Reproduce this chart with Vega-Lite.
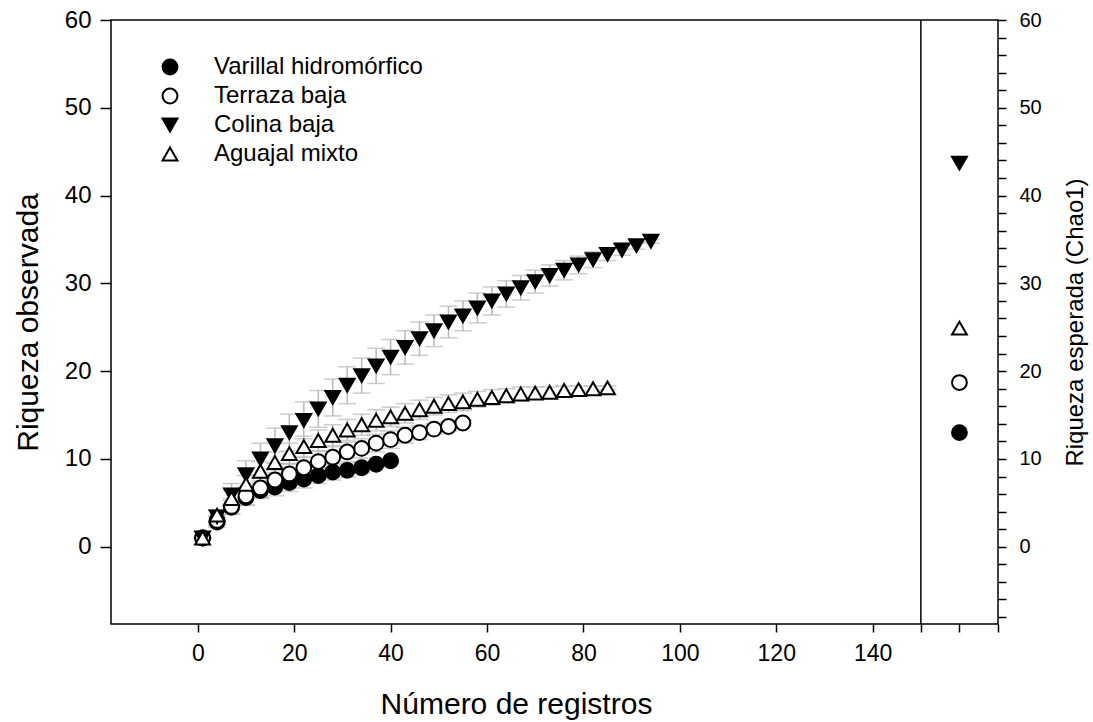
{
"$schema": "https://vega.github.io/schema/vega-lite/v6.json",
"width": 887, "height": 604,
"autosize": {"type": "none"},
"padding": {"left": 111, "top": 20, "right": 95, "bottom": 98},
"background": "white",
"config": {
  "font": "Liberation Sans",
  "view": {"stroke": "black", "strokeWidth": 1.5},
  "axis": {"domain": false, "grid": false, "tickColor": "black", "tickWidth": 1.5, "labelColor": "black", "titleColor": "black", "labelFont": "Liberation Sans", "titleFont": "Liberation Sans", "titleFontWeight": "normal", "labelOverlap": false, "labelFlush": false},
  "legend": {"title": null, "orient": "none", "legendX": 47, "legendY": 35, "padding": 0, "labelFontSize": 24, "labelFont": "Liberation Sans", "labelColor": "black", "labelLimit": 500, "labelOffset": 32, "rowPadding": 5, "symbolSize": 220, "symbolStrokeWidth": 2, "symbolStrokeColor": "black"}
},
"datasets": {
"curves": [
{"sitio":"Varillal hidromórfico","registros":1,"riqueza":1.0,"de":0},
{"sitio":"Varillal hidromórfico","registros":4,"riqueza":2.8,"de":0.6},
{"sitio":"Varillal hidromórfico","registros":7,"riqueza":4.5,"de":0.8},
{"sitio":"Varillal hidromórfico","registros":10,"riqueza":5.6,"de":0.9},
{"sitio":"Varillal hidromórfico","registros":13,"riqueza":6.4,"de":0.9},
{"sitio":"Varillal hidromórfico","registros":16,"riqueza":6.8,"de":1.0},
{"sitio":"Varillal hidromórfico","registros":19,"riqueza":7.3,"de":1.0},
{"sitio":"Varillal hidromórfico","registros":22,"riqueza":7.7,"de":1.0},
{"sitio":"Varillal hidromórfico","registros":25,"riqueza":8.1,"de":0.9},
{"sitio":"Varillal hidromórfico","registros":28,"riqueza":8.5,"de":0.9},
{"sitio":"Varillal hidromórfico","registros":31,"riqueza":8.7,"de":0.8},
{"sitio":"Varillal hidromórfico","registros":34,"riqueza":9.0,"de":0.6},
{"sitio":"Varillal hidromórfico","registros":37,"riqueza":9.4,"de":0.4},
{"sitio":"Varillal hidromórfico","registros":40,"riqueza":9.8,"de":0.2},
{"sitio":"Terraza baja","registros":1,"riqueza":1.0,"de":0},
{"sitio":"Terraza baja","registros":4,"riqueza":3.0,"de":0.6},
{"sitio":"Terraza baja","registros":7,"riqueza":4.6,"de":0.9},
{"sitio":"Terraza baja","registros":10,"riqueza":5.8,"de":1.0},
{"sitio":"Terraza baja","registros":13,"riqueza":6.7,"de":1.1},
{"sitio":"Terraza baja","registros":16,"riqueza":7.6,"de":1.1},
{"sitio":"Terraza baja","registros":19,"riqueza":8.3,"de":1.2},
{"sitio":"Terraza baja","registros":22,"riqueza":9.0,"de":1.2},
{"sitio":"Terraza baja","registros":25,"riqueza":9.7,"de":1.2},
{"sitio":"Terraza baja","registros":28,"riqueza":10.2,"de":1.2},
{"sitio":"Terraza baja","registros":31,"riqueza":10.8,"de":1.1},
{"sitio":"Terraza baja","registros":34,"riqueza":11.2,"de":1.1},
{"sitio":"Terraza baja","registros":37,"riqueza":11.8,"de":1.0},
{"sitio":"Terraza baja","registros":40,"riqueza":12.2,"de":1.0},
{"sitio":"Terraza baja","registros":43,"riqueza":12.7,"de":0.9},
{"sitio":"Terraza baja","registros":46,"riqueza":13.0,"de":0.8},
{"sitio":"Terraza baja","registros":49,"riqueza":13.4,"de":0.6},
{"sitio":"Terraza baja","registros":52,"riqueza":13.7,"de":0.5},
{"sitio":"Terraza baja","registros":55,"riqueza":14.1,"de":0.3},
{"sitio":"Colina baja","registros":1,"riqueza":1.0,"de":0},
{"sitio":"Colina baja","registros":4,"riqueza":3.4,"de":0.8},
{"sitio":"Colina baja","registros":7,"riqueza":5.9,"de":1.3},
{"sitio":"Colina baja","registros":10,"riqueza":8.2,"de":1.6},
{"sitio":"Colina baja","registros":13,"riqueza":10.0,"de":1.8},
{"sitio":"Colina baja","registros":16,"riqueza":11.5,"de":2.0},
{"sitio":"Colina baja","registros":19,"riqueza":13.0,"de":2.1},
{"sitio":"Colina baja","registros":22,"riqueza":14.4,"de":2.1},
{"sitio":"Colina baja","registros":25,"riqueza":15.7,"de":2.1},
{"sitio":"Colina baja","registros":28,"riqueza":17.0,"de":2.1},
{"sitio":"Colina baja","registros":31,"riqueza":18.4,"de":2.1},
{"sitio":"Colina baja","registros":34,"riqueza":19.5,"de":2.0},
{"sitio":"Colina baja","registros":37,"riqueza":20.6,"de":2.0},
{"sitio":"Colina baja","registros":40,"riqueza":21.6,"de":2.0},
{"sitio":"Colina baja","registros":43,"riqueza":22.7,"de":1.9},
{"sitio":"Colina baja","registros":46,"riqueza":23.7,"de":1.9},
{"sitio":"Colina baja","registros":49,"riqueza":24.6,"de":1.8},
{"sitio":"Colina baja","registros":52,"riqueza":25.6,"de":1.8},
{"sitio":"Colina baja","registros":55,"riqueza":26.3,"de":1.7},
{"sitio":"Colina baja","registros":58,"riqueza":27.2,"de":1.7},
{"sitio":"Colina baja","registros":61,"riqueza":28.0,"de":1.6},
{"sitio":"Colina baja","registros":64,"riqueza":28.8,"de":1.5},
{"sitio":"Colina baja","registros":67,"riqueza":29.5,"de":1.4},
{"sitio":"Colina baja","registros":70,"riqueza":30.2,"de":1.3},
{"sitio":"Colina baja","registros":73,"riqueza":30.9,"de":1.2},
{"sitio":"Colina baja","registros":76,"riqueza":31.5,"de":1.1},
{"sitio":"Colina baja","registros":79,"riqueza":32.1,"de":1.0},
{"sitio":"Colina baja","registros":82,"riqueza":32.7,"de":0.9},
{"sitio":"Colina baja","registros":85,"riqueza":33.3,"de":0.7},
{"sitio":"Colina baja","registros":88,"riqueza":33.8,"de":0.6},
{"sitio":"Colina baja","registros":91,"riqueza":34.3,"de":0.4},
{"sitio":"Colina baja","registros":94,"riqueza":34.8,"de":0.2},
{"sitio":"Aguajal mixto","registros":1,"riqueza":1.0,"de":0},
{"sitio":"Aguajal mixto","registros":4,"riqueza":3.6,"de":0.6},
{"sitio":"Aguajal mixto","registros":7,"riqueza":5.5,"de":0.9},
{"sitio":"Aguajal mixto","registros":10,"riqueza":7.1,"de":1.0},
{"sitio":"Aguajal mixto","registros":13,"riqueza":8.6,"de":1.1},
{"sitio":"Aguajal mixto","registros":16,"riqueza":9.6,"de":1.2},
{"sitio":"Aguajal mixto","registros":19,"riqueza":10.6,"de":1.2},
{"sitio":"Aguajal mixto","registros":22,"riqueza":11.4,"de":1.2},
{"sitio":"Aguajal mixto","registros":25,"riqueza":12.1,"de":1.2},
{"sitio":"Aguajal mixto","registros":28,"riqueza":12.7,"de":1.2},
{"sitio":"Aguajal mixto","registros":31,"riqueza":13.3,"de":1.2},
{"sitio":"Aguajal mixto","registros":34,"riqueza":13.9,"de":1.2},
{"sitio":"Aguajal mixto","registros":37,"riqueza":14.4,"de":1.2},
{"sitio":"Aguajal mixto","registros":40,"riqueza":14.8,"de":1.1},
{"sitio":"Aguajal mixto","registros":43,"riqueza":15.2,"de":1.1},
{"sitio":"Aguajal mixto","registros":46,"riqueza":15.6,"de":1.1},
{"sitio":"Aguajal mixto","registros":49,"riqueza":16.0,"de":1.0},
{"sitio":"Aguajal mixto","registros":52,"riqueza":16.3,"de":1.0},
{"sitio":"Aguajal mixto","registros":55,"riqueza":16.5,"de":1.0},
{"sitio":"Aguajal mixto","registros":58,"riqueza":16.8,"de":0.9},
{"sitio":"Aguajal mixto","registros":61,"riqueza":17.0,"de":0.9},
{"sitio":"Aguajal mixto","registros":64,"riqueza":17.2,"de":0.8},
{"sitio":"Aguajal mixto","registros":67,"riqueza":17.4,"de":0.8},
{"sitio":"Aguajal mixto","registros":70,"riqueza":17.5,"de":0.7},
{"sitio":"Aguajal mixto","registros":73,"riqueza":17.6,"de":0.6},
{"sitio":"Aguajal mixto","registros":76,"riqueza":17.8,"de":0.5},
{"sitio":"Aguajal mixto","registros":79,"riqueza":17.9,"de":0.4},
{"sitio":"Aguajal mixto","registros":82,"riqueza":18.0,"de":0.3},
{"sitio":"Aguajal mixto","registros":85,"riqueza":18.1,"de":0.2}
],
"chao": [
{"sitio":"Varillal hidromórfico","chao1":13.0},
{"sitio":"Terraza baja","chao1":18.7},
{"sitio":"Colina baja","chao1":43.7},
{"sitio":"Aguajal mixto","chao1":24.9}
]
},
"layer": [
{
  "data": {"name": "curves"},
  "mark": {"type": "errorbar", "ticks": {"size": 18, "color": "#b8b8b8", "strokeWidth": 1.5}, "color": "#b8b8b8", "thickness": 1.5},
  "encoding": {
    "x": {"field": "registros", "type": "quantitative", "scale": {"domain": [-18, 166], "nice": false, "zero": false},
      "axis": {"values": [0,20,40,60,80,100,120,140,150,158,166], "labelExpr": "datum.value <= 140 ? datum.label : ''", "tickSize": 8, "labelFontSize": 23, "labelPadding": 10, "title": "Número de registros", "titleFontSize": 30, "titleX": 405, "titleY": 89, "titleBaseline": "alphabetic", "titleAlign": "center"}},
    "y": {"field": "riqueza", "type": "quantitative", "scale": {"domain": [-8.8, 60], "nice": false, "zero": false},
      "axis": {"values": [0,10,20,30,40,50,60], "tickSize": 11, "labelFontSize": 24, "labelPadding": 9, "title": "Riqueza observada", "titleFontSize": 30, "titleX": -83, "titleY": 302, "titleAngle": -90, "titleAlign": "center", "titleBaseline": "middle"}},
    "yError": {"field": "de"}
  }
},
{
  "data": {"values": [{}]},
  "mark": {"type": "rule", "color": "black", "strokeWidth": 1.5},
  "encoding": {"x": {"datum": 150, "type": "quantitative"}}
},
{
  "data": {"name": "curves"},
  "mark": {"type": "point", "strokeWidth": 2, "size": 220, "opacity": 1, "fillOpacity": 1},
  "encoding": {
    "x": {"field": "registros", "type": "quantitative"},
    "y": {"field": "riqueza", "type": "quantitative", "axis": null},
    "fill": {"field": "sitio", "type": "nominal", "scale": {"domain": ["Varillal hidromórfico", "Terraza baja", "Colina baja", "Aguajal mixto"], "range": ["black", "white", "black", "white"]}},
    "stroke": {"field": "sitio", "type": "nominal", "scale": {"domain": ["Varillal hidromórfico", "Terraza baja", "Colina baja", "Aguajal mixto"], "range": ["black", "black", "black", "black"]}},
    "shape": {"field": "sitio", "type": "nominal", "scale": {"domain": ["Varillal hidromórfico", "Terraza baja", "Colina baja", "Aguajal mixto"], "range": ["circle", "circle", "triangle-down", "triangle-up"]}}
  }
},
{
  "data": {"name": "chao"},
  "mark": {"type": "point", "strokeWidth": 2, "size": 220, "opacity": 1, "fillOpacity": 1},
  "encoding": {
    "x": {"datum": 158, "type": "quantitative"},
    "y": {"field": "chao1", "type": "quantitative", "scale": {"domain": [-8.8, 60], "nice": false, "zero": false},
      "axis": {"orient": "right", "values": [-8,-6,-4,-2,0,2,4,6,8,10,12,14,16,18,20,22,24,26,28,30,32,34,36,38,40,42,44,46,48,50,52,54,56,58,60], "labelExpr": "datum.value % 10 === 0 ? datum.label : ''", "tickSize": 8, "labelFontSize": 20, "labelPadding": 13, "title": "Riqueza esperada (Chao1)", "titleFontSize": 24, "titleX": 77, "titleY": 302, "titleAngle": -90, "titleAlign": "center", "titleBaseline": "middle"}},
    "fill": {"field": "sitio", "type": "nominal"},
    "stroke": {"field": "sitio", "type": "nominal"},
    "shape": {"field": "sitio", "type": "nominal"}
  }
}
],
"resolve": {"scale": {"y": "shared"}, "axis": {"y": "independent"}}
}
